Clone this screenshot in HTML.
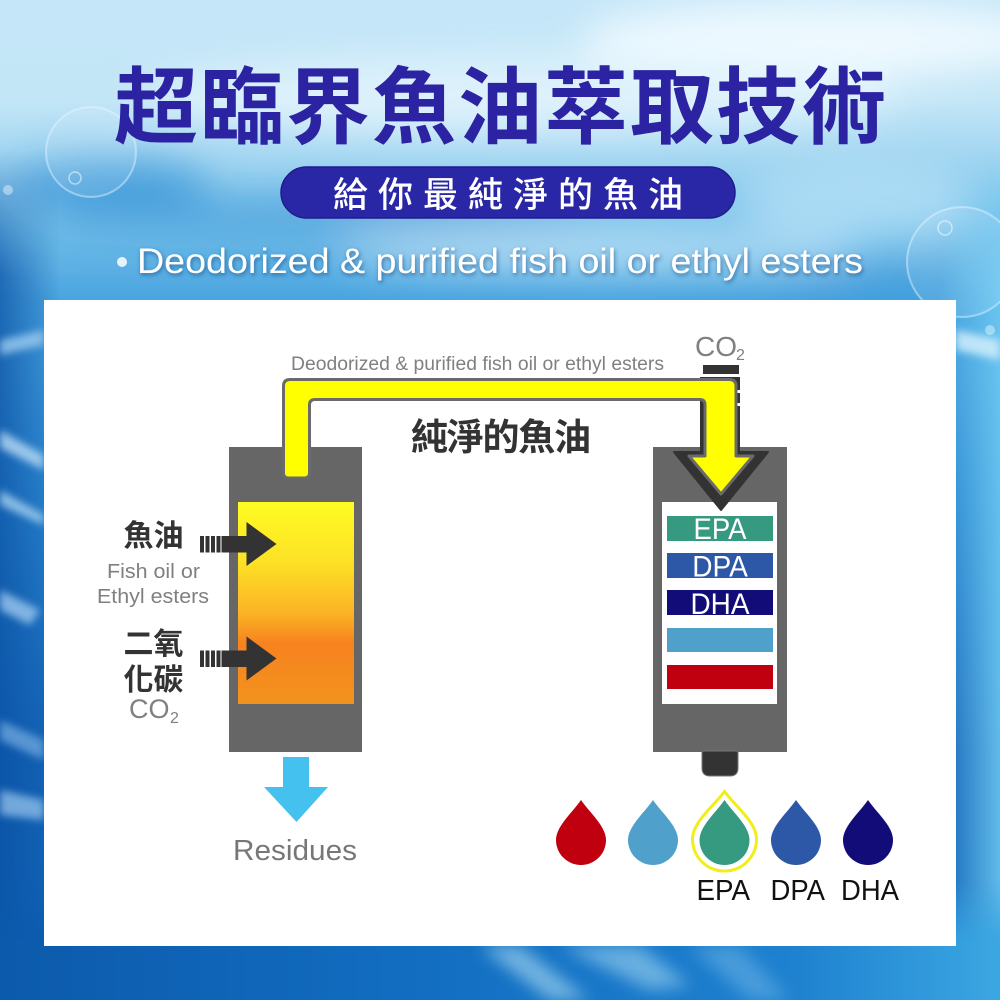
<!DOCTYPE html>
<html>
<head>
<meta charset="utf-8">
<style>
  html,body{margin:0;padding:0;width:1000px;height:1000px;overflow:hidden;background:#5aa9df;}
  svg{display:block;overflow:hidden;}
  .cjk{font-family:"Liberation Sans","Noto Sans CJK TC","Noto Sans CJK SC",sans-serif;}
  .lat{font-family:"Liberation Sans",sans-serif;}
</style>
</head>
<body>
<svg width="1000" height="1000" viewBox="0 0 1000 1000" xmlns="http://www.w3.org/2000/svg">
  <defs>
    <clipPath id="frame"><rect x="0" y="0" width="1000" height="1000"/></clipPath>
    <linearGradient id="bg" x1="0" y1="0" x2="0" y2="1">
      <stop offset="0" stop-color="#c4e6f8"/>
      <stop offset="0.1" stop-color="#c3e6f7"/>
      <stop offset="0.17" stop-color="#9ad2f0"/>
      <stop offset="0.24" stop-color="#6dbbe8"/>
      <stop offset="0.3" stop-color="#49a4df"/>
      <stop offset="0.5" stop-color="#2a86d0"/>
      <stop offset="0.75" stop-color="#1565b8"/>
      <stop offset="1" stop-color="#0f66b8"/>
    </linearGradient>
    <linearGradient id="botgrad" x1="0" y1="0" x2="1" y2="0">
      <stop offset="0" stop-color="#0c5aac"/>
      <stop offset="0.45" stop-color="#136fc2"/>
      <stop offset="0.8" stop-color="#1f82d0"/>
      <stop offset="1" stop-color="#3ba7e2"/>
    </linearGradient>
    <linearGradient id="fadeV" x1="0" y1="0" x2="0" y2="1">
      <stop offset="0" stop-color="#fff" stop-opacity="0"/>
      <stop offset="0.5" stop-color="#fff" stop-opacity="1"/>
      <stop offset="1" stop-color="#fff" stop-opacity="1"/>
    </linearGradient>
    <mask id="botmask" maskUnits="userSpaceOnUse" x="0" y="880" width="1000" height="120">
      <rect x="0" y="880" width="1000" height="120" fill="url(#fadeV)"/>
    </mask>
    <linearGradient id="leftside" x1="0" y1="0" x2="1" y2="0">
      <stop offset="0" stop-color="#0a4fa2" stop-opacity="0.7"/>
      <stop offset="1" stop-color="#0a4fa2" stop-opacity="0"/>
    </linearGradient>
    <linearGradient id="rightside" x1="0" y1="0" x2="1" y2="0">
      <stop offset="0" stop-color="#6fcaf2" stop-opacity="0"/>
      <stop offset="1" stop-color="#6fcaf2" stop-opacity="0.85"/>
    </linearGradient>
    <linearGradient id="fadeTop" x1="0" y1="0" x2="0" y2="1">
      <stop offset="0" stop-color="#fff" stop-opacity="0"/>
      <stop offset="0.15" stop-color="#fff" stop-opacity="1"/>
      <stop offset="1" stop-color="#fff" stop-opacity="1"/>
    </linearGradient>
    <mask id="sidemask" maskUnits="userSpaceOnUse" x="0" y="150" width="1000" height="850">
      <rect x="0" y="150" width="1000" height="850" fill="url(#fadeTop)"/>
    </mask>
    <linearGradient id="oil" x1="0" y1="0" x2="0" y2="1">
      <stop offset="0" stop-color="#fefc22"/>
      <stop offset="0.3" stop-color="#fde126"/>
      <stop offset="0.55" stop-color="#fbb326"/>
      <stop offset="0.7" stop-color="#f7821f"/>
      <stop offset="1" stop-color="#f2931e"/>
    </linearGradient>
    <filter id="blur8" x="-50%" y="-50%" width="200%" height="200%"><feGaussianBlur stdDeviation="8"/></filter>
    <filter id="blur4" x="-50%" y="-50%" width="200%" height="200%"><feGaussianBlur stdDeviation="4"/></filter>
    <filter id="blur20" x="-50%" y="-50%" width="200%" height="200%"><feGaussianBlur stdDeviation="20"/></filter>
    <filter id="shadow" x="-10%" y="-30%" width="120%" height="160%">
      <feDropShadow dx="1" dy="2" stdDeviation="2" flood-color="#0d3b78" flood-opacity="0.6"/>
    </filter>
  </defs>

  <g clip-path="url(#frame)">
  <!-- Background -->
  <rect x="0" y="0" width="1000" height="1000" fill="url(#bg)"/>
  <g filter="url(#blur20)">
    <ellipse cx="820" cy="40" rx="240" ry="40" fill="#f2fbff" opacity="0.9"/>
    <ellipse cx="520" cy="95" rx="380" ry="40" fill="#e3f4fc" opacity="0.8"/>
    <ellipse cx="110" cy="185" rx="100" ry="25" fill="#2f8fd5" opacity="0.7"/>
    <ellipse cx="320" cy="215" rx="280" ry="16" fill="#2b88d2" opacity="0.55"/>
    <ellipse cx="600" cy="250" rx="260" ry="20" fill="#d8f0fb" opacity="0.7"/>
    <ellipse cx="860" cy="200" rx="120" ry="40" fill="#b9e3f7" opacity="0.7"/>
    <ellipse cx="880" cy="285" rx="110" ry="12" fill="#2d90d6" opacity="0.5"/>
  </g>
  <g mask="url(#sidemask)">
    <rect x="0" y="150" width="60" height="850" fill="url(#leftside)"/>
    <rect x="940" y="150" width="60" height="850" fill="url(#rightside)"/>
  </g>
  <rect x="0" y="880" width="1000" height="120" fill="url(#botgrad)" mask="url(#botmask)"/>
  <g filter="url(#blur4)" opacity="0.8">
    <polygon points="0,340 44,330 44,345 0,355" fill="#9ccbf0"/>
    <polygon points="0,430 44,455 44,470 0,448" fill="#b9dcf5"/>
    <polygon points="0,490 44,515 44,525 0,505" fill="#a9d3f2"/>
    <polygon points="0,590 40,610 30,625 0,610" fill="#9cc8ee"/>
    <polygon points="0,720 44,740 44,760 0,740" fill="#6aa4dc"/>
    <polygon points="0,790 44,800 44,820 0,815" fill="#8cbce6"/>
    <polygon points="956,330 1000,340 1000,360 956,350" fill="#d8f1fc"/>
  </g>
  <g filter="url(#blur8)" opacity="0.7">
    <polygon points="480,946 520,946 590,1000 550,1000" fill="#9cd0ee"/>
    <polygon points="560,946 640,946 690,985 650,990" fill="#8ac6ea"/>
    <polygon points="690,946 740,946 790,1000 750,1000" fill="#5aa8e0"/>
  </g>

  <!-- Bubbles -->
  <circle cx="91" cy="152" r="45" fill="#ffffff" fill-opacity="0.1" stroke="#e8f7ff" stroke-opacity="0.45" stroke-width="2"/>
  <circle cx="75" cy="178" r="6" fill="none" stroke="#ffffff" stroke-opacity="0.5" stroke-width="1.5"/>
  <circle cx="962" cy="262" r="55" fill="#ffffff" fill-opacity="0.1" stroke="#e8f7ff" stroke-opacity="0.45" stroke-width="2"/>
  <circle cx="945" cy="228" r="7" fill="none" stroke="#ffffff" stroke-opacity="0.5" stroke-width="1.5"/>
  <circle cx="8" cy="190" r="5" fill="#ffffff" fill-opacity="0.4"/>
  <circle cx="990" cy="330" r="5" fill="#ffffff" fill-opacity="0.4"/>
  <circle cx="122" cy="262" r="5" fill="#ffffff" fill-opacity="0.85"/>
  </g>

  <!-- Title -->
  <text class="cjk" x="500" y="137" font-size="84" font-weight="700" fill="#2b23a2" text-anchor="middle" textLength="772" lengthAdjust="spacing">超臨界魚油萃取技術</text>

  <!-- Pill -->
  <rect x="281" y="167" width="454" height="51" rx="25.5" fill="#2a27a6" stroke="#1f1c8c" stroke-width="1.5"/>
  <text class="cjk" x="508" y="207" font-size="35" font-weight="500" fill="#ffffff" text-anchor="middle" textLength="350" lengthAdjust="spacing">給你最純淨的魚油</text>

  <!-- English subtitle -->
  <text class="lat" x="137" y="273" font-size="35" fill="#ffffff" textLength="726" lengthAdjust="spacingAndGlyphs" filter="url(#shadow)">Deodorized &amp; purified fish oil or ethyl esters</text>

  <!-- White panel -->
  <rect x="44" y="300" width="912" height="646" fill="#ffffff"/>

  <!-- Panel top text -->
  <text class="lat" x="291" y="370" font-size="19" fill="#808080" textLength="373" lengthAdjust="spacingAndGlyphs">Deodorized &amp; purified fish oil or ethyl esters</text>
  <text class="lat" x="695" y="356" font-size="28" fill="#808080">CO</text>
  <text class="lat" x="736" y="360" font-size="16" fill="#808080">2</text>

  <!-- Left column -->
  <rect x="229" y="447" width="133" height="305" fill="#666666"/>
  <rect x="238" y="502" width="116" height="202" fill="url(#oil)"/>

  <!-- Right column -->
  <rect x="653" y="447" width="134" height="305" fill="#666666"/>
  <rect x="662" y="502" width="115" height="202" fill="#ffffff"/>
  <rect x="667" y="516" width="106" height="25" fill="#359a80"/>
  <rect x="667" y="553" width="106" height="25" fill="#2d58a8"/>
  <rect x="667" y="590" width="106" height="25" fill="#120c78"/>
  <rect x="667" y="628" width="106" height="24" fill="#4fa1cc"/>
  <rect x="667" y="665" width="106" height="24" fill="#c1000f"/>
  <text class="lat" x="720" y="539" font-size="30" fill="#ffffff" text-anchor="middle" textLength="53" lengthAdjust="spacingAndGlyphs">EPA</text>
  <text class="lat" x="720" y="576.5" font-size="30" fill="#ffffff" text-anchor="middle" textLength="55.6" lengthAdjust="spacingAndGlyphs">DPA</text>
  <text class="lat" x="720" y="614" font-size="30" fill="#ffffff" text-anchor="middle" textLength="59" lengthAdjust="spacingAndGlyphs">DHA</text>
  <!-- nozzle -->
  <path d="M702,751 L738,751 L738,768 Q738,776 730,776 L710,776 Q702,776 702,768 Z" fill="#333333" stroke="#777777" stroke-width="1"/>

  <!-- Dark arrow behind pipe -->
  <rect x="703" y="365" width="36" height="9" fill="#333333"/>
  <rect x="700" y="377" width="40" height="78" fill="#333333"/>
  <polygon points="674,452 768,452 721,510" fill="#333333" stroke="#333333" stroke-width="2" stroke-linejoin="round"/>
  <rect x="736" y="390" width="6" height="3" fill="#ffffff"/>
  <rect x="736" y="403" width="6" height="3" fill="#ffffff"/>

  <!-- Yellow pipe + arrowhead -->
  <path d="M283.5,473 L283.5,386 Q283.5,379.5 290,379.5 L729.5,379.5 Q736,379.5 736,386 L736,456 L753,456 L721,494 L689,456 L705,456 L705,405 Q705,399.5 700,399.5 L315,399.5 Q309.5,399.5 309.5,405 L309.5,473 Q309.5,478 304.5,478 L288.5,478 Q283.5,478 283.5,473 Z"
        fill="#ffff00" stroke="#6a6a6a" stroke-width="3" stroke-linejoin="round"/>

  <!-- Pure fish oil label -->
  <text class="cjk" x="501" y="450" font-size="37" font-weight="700" fill="#333333" text-anchor="middle" textLength="180" lengthAdjust="spacing">純淨的魚油</text>

  <!-- Left labels -->
  <text class="cjk" x="153.5" y="546" font-size="30" font-weight="700" fill="#333333" text-anchor="middle">魚油</text>
  <text class="lat" x="153.5" y="578" font-size="20" fill="#808080" text-anchor="middle" textLength="93" lengthAdjust="spacingAndGlyphs">Fish oil or</text>
  <text class="lat" x="153" y="603" font-size="20" fill="#808080" text-anchor="middle" textLength="112" lengthAdjust="spacingAndGlyphs">Ethyl esters</text>
  <text class="cjk" x="153.5" y="654" font-size="30" font-weight="700" fill="#333333" text-anchor="middle">二氧</text>
  <text class="cjk" x="153.5" y="690" font-size="30" font-weight="700" fill="#333333" text-anchor="middle">化碳</text>
  <text class="lat" x="129" y="718" font-size="27" fill="#808080">CO</text>
  <text class="lat" x="170" y="723" font-size="16" fill="#808080">2</text>

  <!-- Input arrows -->
  <g fill="#333333">
    <rect x="200" y="536" width="4" height="16.5"/>
    <rect x="205.5" y="536" width="4" height="16.5"/>
    <rect x="211" y="536" width="4" height="16.5"/>
    <rect x="216.5" y="536" width="4" height="16.5"/>
    <rect x="221.5" y="536" width="26" height="16.5"/>
    <polygon points="246.5,522 276.5,544 246.5,566"/>
    <rect x="200" y="650.5" width="4" height="16.5"/>
    <rect x="205.5" y="650.5" width="4" height="16.5"/>
    <rect x="211" y="650.5" width="4" height="16.5"/>
    <rect x="216.5" y="650.5" width="4" height="16.5"/>
    <rect x="221.5" y="650.5" width="26" height="16.5"/>
    <polygon points="246.5,636.5 276.5,658.5 246.5,680.5"/>
  </g>

  <!-- Residues arrow -->
  <rect x="283" y="757" width="26" height="31" fill="#44c1ef"/>
  <polygon points="264,787 328,787 296.5,822" fill="#44c1ef"/>
  <text class="lat" x="233" y="860" font-size="29" fill="#777777" textLength="124" lengthAdjust="spacingAndGlyphs">Residues</text>

  <!-- Drops -->
  <path d="M581,800 C589,812 606,826 606,840 A25,25 0 0 1 556,840 C556,826 573,812 581,800 Z" fill="#c1000f"/>
  <path d="M653,800 C661,812 678,826 678,840 A25,25 0 0 1 628,840 C628,826 645,812 653,800 Z" fill="#4fa1cc"/>
  <path d="M724.5,791.5 C735,806 756.5,822 756.5,839 A32,32 0 0 1 692.5,839 C692.5,822 714,806 724.5,791.5 Z" fill="none" stroke="#f2ee1a" stroke-width="3"/>
  <path d="M724.5,800 C732.5,812 749.5,826 749.5,840 A25,25 0 0 1 699.5,840 C699.5,826 716.5,812 724.5,800 Z" fill="#359a80"/>
  <path d="M796,800 C804,812 821,826 821,840 A25,25 0 0 1 771,840 C771,826 788,812 796,800 Z" fill="#2d58a8"/>
  <path d="M868,800 C876,812 893,826 893,840 A25,25 0 0 1 843,840 C843,826 860,812 868,800 Z" fill="#120c78"/>

  <text class="lat" x="696.5" y="900" font-size="29" fill="#111111" textLength="53.5" lengthAdjust="spacingAndGlyphs">EPA</text>
  <text class="lat" x="770.5" y="900" font-size="29" fill="#111111" textLength="54.5" lengthAdjust="spacingAndGlyphs">DPA</text>
  <text class="lat" x="841" y="900" font-size="29" fill="#111111" textLength="58" lengthAdjust="spacingAndGlyphs">DHA</text>
</svg>
</body>
</html>
